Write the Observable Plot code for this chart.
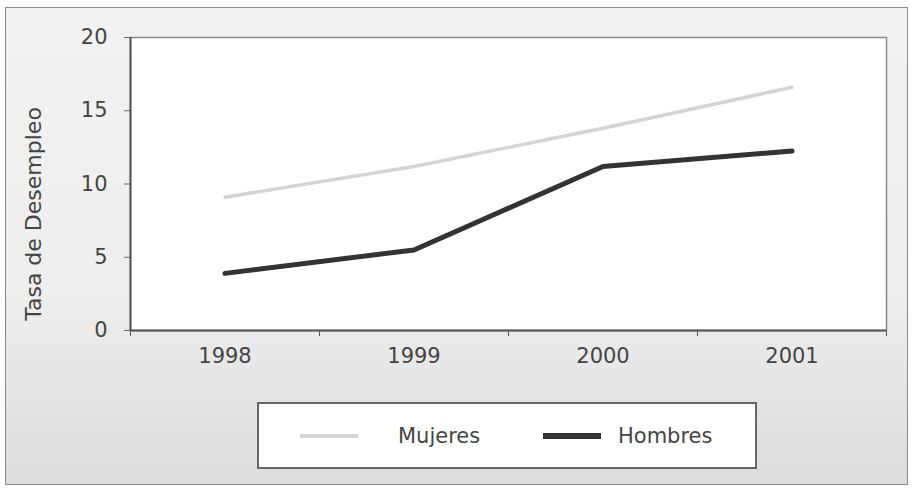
<!DOCTYPE html>
<html>
<head>
<meta charset="utf-8">
<script src="https://cdn.jsdelivr.net/npm/d3@7"></script>
<script src="https://cdn.jsdelivr.net/npm/@observablehq/plot@0.6"></script>
<style>
  html, body { margin: 0; padding: 0; background: #ffffff; }
  body { width: 913px; height: 491px; position: relative; overflow: hidden; font-family: "DejaVu Sans", sans-serif; }
  #frame { position: absolute; left: 5px; top: 7px; width: 903px; height: 478px; border: 1px solid #8a8a8a;
           background: linear-gradient(#f2f2f2 0%, #eeeeee 60%, #dcdcdc 100%); box-sizing: border-box; }
  #chart { position: absolute; left: 0; top: 0; }
  #legend { position: absolute; left: 257px; top: 402px; width: 500px; height: 67px; border: 2px solid #666;
            background: #ffffff; box-sizing: border-box; }
  .item { position: absolute; top: 0; height: 63px; display: flex; align-items: center; font-size: 21px; color: #444; }
  .sw { display: inline-block; width: 58px; margin-right: 40px; }
</style>
</head>
<body>
<div id="frame"></div>
<div id="chart"></div>
<div id="legend"></div>
<script>
const years = [1998, 1999, 2000, 2001];
const mujeres = [9.1, 11.2, 13.8, 16.6];
const hombres = [3.9, 5.5, 11.2, 12.25];
const seriesNames = ["Mujeres", "Hombres"];
const seriesColors = ["#d4d4d4", "#333333"];
const seriesWidths = [3.5, 5];
const yTicks = [0, 5, 10, 15, 20];
const yTitle = "Tasa de Desempleo";

const data = [];
years.forEach((y, i) => {
  data.push({year: y, value: mujeres[i], serie: seriesNames[0]});
  data.push({year: y, value: hombres[i], serie: seriesNames[1]});
});
const boundaries = [years[0] - 0.5, ...years.map(y => y + 0.5)];

const chart = Plot.plot({
  width: 913,
  height: 395,
  marginLeft: 130,
  marginRight: 27,
  marginTop: 37,
  marginBottom: 65,
  style: {background: "transparent", fontFamily: "DejaVu Sans, sans-serif", fontSize: "21px", color: "#444"},
  x: {domain: [years[0] - 0.5, years[years.length - 1] + 0.5]},
  y: {domain: [0, 20]},
  marks: [
    Plot.frame({fill: "white", stroke: "#8a8a8a", strokeWidth: 1.5}),
    Plot.axisY({ticks: yTicks, tickSize: 6, tickPadding: 17, label: null, stroke: "#666", fill: "#444"}),
    Plot.axisX({ticks: boundaries, tickSize: 6, tickFormat: () => "", label: null, stroke: "#555"}),
    Plot.axisX({ticks: years, tickSize: 0, tickPadding: 18, tickFormat: d => String(d), label: null, fill: "#444"}),
    Plot.ruleY([0], {stroke: "#555", strokeWidth: 2}),
    Plot.ruleX([boundaries[0]], {stroke: "#555", strokeWidth: 2}),
    Plot.text([yTitle], {frameAnchor: "left", textAnchor: "middle", lineAnchor: "middle", dx: -97, dy: 30, rotate: -90, fontSize: 22, fill: "#444"}),
    Plot.line(data.filter(d => d.serie === seriesNames[0]), {x: "year", y: "value", stroke: seriesColors[0], strokeWidth: seriesWidths[0]}),
    Plot.line(data.filter(d => d.serie === seriesNames[1]), {x: "year", y: "value", stroke: seriesColors[1], strokeWidth: seriesWidths[1]})
  ]
});
document.getElementById("chart").appendChild(chart);

const legend = document.getElementById("legend");
const lefts = [41, 284];
seriesNames.forEach((name, i) => {
  const item = document.createElement("div");
  item.className = "item";
  item.style.left = lefts[i] + "px";
  const sw = document.createElement("span");
  sw.className = "sw";
  sw.style.height = (i === 0 ? 4 : 6) + "px";
  sw.style.background = seriesColors[i];
  if (i === 1) sw.style.marginRight = "17px";
  item.appendChild(sw);
  const t = document.createElement("span");
  t.textContent = name;
  item.appendChild(t);
  legend.appendChild(item);
});
</script>
</body>
</html>
